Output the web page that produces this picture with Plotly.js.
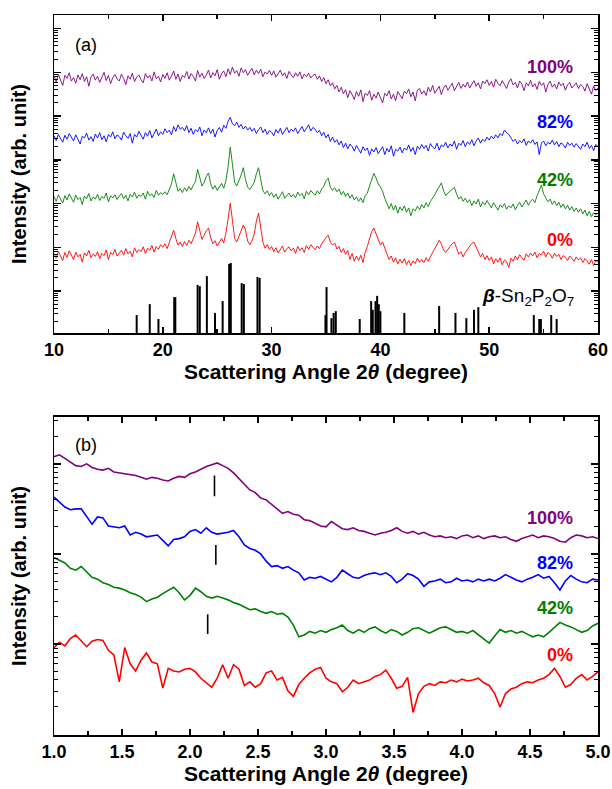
<!DOCTYPE html>
<html>
<head>
<meta charset="utf-8">
<script src="https://cdn.plot.ly/plotly-3.0.1.min.js"></script>
<style>html,body{margin:0;padding:0;background:#fff;}#plot{width:612px;height:789px;}</style>
</head>
<body>
<div id="plot"></div>
<script>
// ---------- Panel (a): XRD patterns, 2theta 10..60 deg, step 0.2 deg; values are log10(intensity, arb.) ----------
const angleA = Array.from({length: 251}, (_, i) => +(10 + 0.2 * i).toFixed(1));

const a100 = [
5.92,5.78,5.95,5.84,5.70,5.93,5.86,5.99,5.80,5.88,
5.75,5.94,5.83,5.97,5.79,5.90,5.68,5.89,5.96,5.82,
5.91,5.77,5.87,6.00,5.81,5.93,5.74,5.88,5.95,5.85,
5.80,5.96,5.86,5.72,5.92,5.84,5.98,5.79,5.89,5.94,
5.83,5.76,5.97,5.87,5.93,5.80,6.01,5.85,5.91,5.78,
5.95,5.86,5.99,5.82,5.92,6.03,5.84,5.96,5.79,5.93,
5.88,6.02,5.85,5.97,5.91,5.80,6.04,5.89,5.98,5.86,
5.94,6.05,5.87,5.99,5.92,6.06,5.84,5.97,6.03,5.90,
6.08,5.95,6.12,5.98,6.04,5.91,6.10,5.99,6.06,5.93,
6.02,6.09,5.94,6.05,5.97,6.07,5.90,6.01,5.96,6.04,
5.93,6.03,5.89,5.98,6.05,5.92,5.99,5.86,6.02,5.94,
5.88,5.99,5.91,6.01,5.85,5.96,5.90,5.98,5.87,5.93,
5.96,5.84,5.92,5.79,5.88,5.74,5.83,5.69,5.76,5.62,
5.70,5.55,5.66,5.51,5.60,5.42,5.58,5.49,5.38,5.56,
5.45,5.60,5.33,5.52,5.47,5.58,5.36,5.50,5.41,5.55,
5.44,5.30,5.52,5.46,5.58,5.39,5.50,5.35,5.56,5.48,
5.40,5.57,5.51,5.62,5.44,5.55,5.35,5.59,5.63,5.50,
5.58,5.47,5.66,5.55,5.70,5.52,5.61,5.68,5.49,5.64,
5.71,5.59,5.67,5.75,5.58,5.69,5.77,5.63,5.73,5.66,
5.78,5.64,5.72,5.81,5.68,5.76,5.62,5.80,5.74,5.83,
5.70,5.79,5.66,5.84,5.75,5.69,5.81,5.72,5.63,5.78,
5.85,5.71,5.77,5.64,5.80,5.73,5.58,5.76,5.69,5.82,
5.67,5.74,5.61,5.79,5.70,5.76,5.55,5.72,5.80,5.66,
5.73,5.62,5.78,5.69,5.75,5.59,5.71,5.77,5.64,5.70,
5.76,5.63,5.72,5.68,5.57,5.74,5.61,5.50,5.69,5.58,
5.64];

const a82 = [
4.55,4.44,4.58,4.49,4.40,4.56,4.47,4.60,4.51,4.43,
4.57,4.48,4.36,4.54,4.50,4.61,4.45,4.53,4.42,4.59,
4.50,4.62,4.46,4.55,4.41,4.58,4.52,4.64,4.48,4.57,
4.53,4.45,4.63,4.55,4.49,4.60,4.38,4.58,4.52,4.65,
4.56,4.47,4.62,4.54,4.67,4.50,4.60,4.70,4.55,4.64,
4.58,4.71,4.62,4.68,4.57,4.76,4.65,4.80,4.70,4.74,
4.66,4.78,4.62,4.72,4.58,4.69,4.64,4.75,4.55,4.68,
4.62,4.73,4.60,4.70,4.52,4.67,4.74,4.63,4.79,4.72,
4.88,4.97,4.82,4.78,4.86,4.74,4.81,4.70,4.77,4.68,
4.74,4.65,4.72,4.60,4.69,4.75,4.62,4.70,4.58,4.67,
4.63,4.55,4.69,4.61,4.72,4.58,4.66,4.74,4.62,4.70,
4.65,4.73,4.60,4.69,4.76,4.64,4.71,4.80,4.66,4.74,
4.70,4.62,4.67,4.55,4.63,4.50,4.58,4.42,4.52,4.40,
4.46,4.34,4.43,4.28,4.38,4.25,4.36,4.30,4.20,4.33,
4.24,4.15,4.30,4.21,4.27,4.10,4.25,4.18,4.28,4.14,
4.22,4.30,4.12,4.26,4.18,4.32,4.08,4.24,4.20,4.29,
4.16,4.27,4.22,4.34,4.19,4.28,4.12,4.31,4.24,4.35,
4.26,4.33,4.20,4.37,4.29,4.25,4.38,4.22,4.34,4.30,
4.40,4.27,4.36,4.31,4.43,4.24,4.38,4.33,4.44,4.30,
4.41,4.35,4.46,4.32,4.43,4.50,4.38,4.47,4.42,4.52,
4.45,4.54,4.48,4.57,4.50,4.60,4.55,4.68,4.62,4.58,
4.50,4.42,4.47,4.36,4.44,4.39,4.48,4.33,4.43,4.38,
4.46,4.35,4.41,4.12,4.38,4.43,4.32,4.40,4.36,4.45,
4.34,4.42,4.30,4.39,4.35,4.27,4.40,4.33,4.38,4.29,
4.37,4.31,4.24,4.36,4.30,4.40,4.26,4.33,4.21,4.35,
4.30];

const a42 = [
3.16,3.05,3.20,3.10,3.01,3.18,3.08,3.22,3.12,3.03,
3.19,3.09,3.14,2.98,3.17,3.11,3.23,3.06,3.15,3.10,
3.21,3.07,3.16,3.12,3.24,3.04,3.18,3.13,3.20,3.09,
3.17,3.23,3.11,3.19,3.06,3.21,3.15,3.26,3.12,3.20,
3.16,3.24,3.10,3.28,3.18,3.22,3.14,3.30,3.19,3.25,
3.21,3.27,3.20,3.31,3.45,3.68,3.44,3.28,3.34,3.25,
3.36,3.28,3.39,3.31,3.42,3.50,3.78,3.60,3.40,3.48,
3.62,3.70,3.45,3.33,3.41,3.30,3.38,3.46,3.35,3.52,
3.85,4.29,3.90,3.48,3.40,3.52,3.65,3.82,3.55,3.38,
3.32,3.40,3.48,3.68,3.82,3.55,3.30,3.22,3.29,3.18,
3.25,3.14,3.22,3.10,3.20,3.27,3.12,3.19,3.24,3.15,
3.21,3.13,3.26,3.18,3.23,3.11,3.28,3.20,3.30,3.24,
3.19,3.29,3.22,3.33,3.40,3.52,3.58,3.38,3.30,3.36,
3.27,3.33,3.20,3.28,3.16,3.24,3.12,3.20,3.08,3.15,
3.05,3.13,3.02,3.18,3.24,3.40,3.55,3.69,3.58,3.45,
3.38,3.28,3.12,2.98,2.88,3.00,2.85,2.96,2.78,2.92,
2.84,2.95,2.80,2.90,2.72,2.88,2.83,2.94,2.86,2.98,
2.90,3.02,2.93,3.05,3.12,3.20,3.30,3.38,3.47,3.30,
3.18,3.24,3.28,3.34,3.37,3.22,3.10,3.16,3.05,3.12,
3.02,3.09,2.95,3.06,2.99,3.10,2.92,3.04,2.97,3.07,
2.98,2.90,3.02,2.94,2.85,2.97,2.91,3.00,2.87,2.95,
2.90,2.99,2.86,2.95,3.03,2.92,3.00,3.08,2.96,3.05,
3.10,3.02,3.18,3.30,3.42,3.22,3.12,3.04,3.10,2.98,
3.06,2.95,3.03,2.91,2.99,2.88,2.96,2.85,2.93,2.82,
2.90,2.80,2.88,2.76,2.85,2.72,2.82,2.70,2.79,2.75,
2.78];

const a0 = [
1.86,1.75,1.90,1.79,1.70,1.88,1.77,1.92,1.81,1.72,
1.89,1.78,1.84,1.66,1.87,1.80,1.93,1.76,1.85,1.79,
1.90,1.74,1.86,1.81,1.94,1.72,1.88,1.83,1.95,1.80,
1.87,1.93,1.82,1.97,1.85,1.91,1.78,1.99,1.88,1.95,
1.90,2.01,1.86,1.98,1.93,2.04,1.89,2.02,1.95,2.06,
2.00,2.08,1.97,2.10,2.22,2.39,2.20,2.05,2.12,2.02,
2.13,2.04,2.16,2.08,2.20,2.32,2.58,2.40,2.18,2.28,
2.38,2.44,2.22,2.08,2.15,2.03,2.12,2.20,2.10,2.32,
2.65,3.01,2.62,2.20,2.12,2.25,2.38,2.51,2.40,2.14,
2.06,2.15,2.30,2.60,2.78,2.45,2.12,1.98,2.06,1.95,
2.02,1.90,1.99,1.87,1.96,2.03,1.89,1.97,2.01,1.92,
1.98,1.86,2.02,1.93,1.99,1.88,2.04,1.95,2.06,2.00,
1.94,2.03,1.97,2.08,2.16,2.22,2.28,2.12,2.05,2.10,
1.96,2.02,1.88,1.97,1.84,1.93,1.72,1.86,1.68,1.80,
1.70,1.82,1.65,1.88,2.02,2.20,2.36,2.44,2.30,2.15,
2.05,2.12,1.96,1.85,1.72,1.80,1.66,1.76,1.62,1.73,
1.64,1.74,1.60,1.70,1.58,1.69,1.63,1.75,1.66,1.72,
1.65,1.76,1.68,1.80,1.88,1.97,2.06,2.16,2.08,1.94,
1.88,1.96,2.02,2.08,2.12,1.98,1.84,1.90,1.78,1.88,
1.95,2.04,2.09,2.12,2.00,1.90,1.78,1.86,1.72,1.81,
1.70,1.78,1.62,1.74,1.66,1.76,1.60,1.71,1.67,1.54,
1.75,1.68,1.80,1.72,1.83,1.76,1.70,1.85,1.78,1.87,
1.80,1.89,1.76,1.86,1.82,1.91,1.78,1.88,1.84,1.75,
1.86,1.79,1.84,1.72,1.81,1.77,1.70,1.80,1.74,1.68,
1.78,1.71,1.76,1.65,1.74,1.69,1.61,1.72,1.58,1.70,
1.66];

// reference pattern beta-Sn2P2O7: positions (deg) and stick heights (log10 units)
const refPos = [17.6,18.8,19.6,21.05,21.15,23.2,23.4,24.05,24.8,25.5,26.1,26.25,27.25,27.45,28.7,28.9,
  34.95,35.05,35.5,35.7,35.9,38.1,39.15,39.3,39.55,39.7,39.85,40.0,42.2,45.4,46.9,47.9,48.6,49.0,
  54.1,54.6,54.75,55.7,56.2];
const refHeight = [0.45,0.70,0.36,0.86,0.86,1.14,1.11,1.34,0.50,0.77,1.62,1.64,1.18,1.16,1.32,1.30,
  0.45,1.09,0.38,0.50,0.54,0.36,0.77,0.57,0.77,0.89,0.70,0.54,0.50,0.66,0.50,0.38,0.57,0.63,
  0.45,0.36,0.36,0.45,0.36];
const refBase = 0;

// ---------- Panel (b): small-angle region, 2theta 1..5 deg, step 0.04 deg ----------
const angleB = Array.from({length: 101}, (_, i) => +(1 + 0.04 * i).toFixed(2));

const b100 = [
3.08,3.10,3.06,3.02,2.98,2.97,3.00,2.96,2.94,2.93,
2.95,2.91,2.90,2.89,2.88,2.87,2.85,2.83,2.85,2.84,
2.82,2.81,2.84,2.86,2.85,2.89,2.91,2.94,2.97,2.99,
3.01,2.98,2.95,2.90,2.84,2.78,2.71,2.68,2.62,2.60,
2.55,2.50,2.45,2.47,2.44,2.43,2.38,2.37,2.34,2.31,
2.30,2.36,2.32,2.28,2.27,2.29,2.26,2.25,2.23,2.21,
2.23,2.24,2.26,2.29,2.25,2.23,2.25,2.22,2.24,2.21,
2.19,2.20,2.18,2.19,2.17,2.20,2.21,2.18,2.20,2.17,
2.19,2.20,2.18,2.19,2.16,2.14,2.17,2.19,2.21,2.18,
2.20,2.19,2.17,2.14,2.13,2.18,2.21,2.20,2.18,2.19,
2.17];

const b82 = [
2.63,2.57,2.52,2.49,2.50,2.50,2.42,2.33,2.41,2.40,
2.31,2.30,2.29,2.31,2.21,2.24,2.22,2.19,2.20,2.21,
2.15,2.09,2.16,2.17,2.19,2.25,2.27,2.23,2.29,2.24,
2.22,2.23,2.24,2.26,2.19,2.10,2.06,2.04,2.00,1.92,
1.86,1.87,1.84,1.86,1.82,1.79,1.71,1.74,1.73,1.75,
1.72,1.69,1.74,1.82,1.78,1.74,1.73,1.76,1.78,1.79,
1.77,1.79,1.75,1.68,1.72,1.78,1.76,1.72,1.64,1.69,
1.70,1.72,1.68,1.69,1.73,1.70,1.71,1.69,1.72,1.70,
1.72,1.70,1.73,1.77,1.74,1.71,1.69,1.72,1.74,1.77,
1.73,1.75,1.68,1.60,1.70,1.76,1.72,1.69,1.68,1.72,
1.71];

const b42 = [
1.96,1.93,1.90,1.84,1.82,1.86,1.80,1.74,1.72,1.68,
1.66,1.63,1.62,1.60,1.57,1.55,1.52,1.47,1.50,1.52,
1.56,1.60,1.63,1.57,1.49,1.54,1.62,1.58,1.53,1.51,
1.53,1.51,1.49,1.46,1.44,1.41,1.38,1.39,1.36,1.34,
1.36,1.33,1.34,1.30,1.21,1.08,1.10,1.14,1.12,1.15,
1.13,1.16,1.18,1.21,1.15,1.12,1.16,1.13,1.17,1.19,
1.15,1.12,1.16,1.14,1.10,1.13,1.17,1.18,1.15,1.12,
1.15,1.18,1.19,1.16,1.13,1.14,1.12,1.15,1.10,1.05,
1.01,1.09,1.16,1.13,1.15,1.12,1.14,1.11,1.08,1.10,
1.08,1.13,1.18,1.24,1.21,1.19,1.16,1.13,1.15,1.20,
1.23];

const b0 = [
0.96,1.02,0.98,1.06,1.10,1.04,0.97,1.03,1.05,1.04,
0.93,0.88,0.58,0.96,0.78,0.70,0.82,0.90,0.80,0.78,
0.51,0.73,0.70,0.69,0.72,0.73,0.69,0.62,0.57,0.52,
0.62,0.77,0.62,0.77,0.72,0.54,0.58,0.52,0.56,0.68,
0.70,0.60,0.63,0.48,0.42,0.55,0.62,0.68,0.72,0.74,
0.62,0.58,0.56,0.47,0.52,0.60,0.56,0.58,0.60,0.64,
0.66,0.71,0.62,0.51,0.53,0.63,0.24,0.45,0.53,0.56,
0.54,0.58,0.57,0.60,0.58,0.61,0.59,0.60,0.62,0.57,
0.54,0.45,0.30,0.45,0.50,0.52,0.56,0.58,0.57,0.60,
0.62,0.66,0.73,0.64,0.52,0.55,0.62,0.66,0.60,0.64,
0.69];

// short vertical markers in panel (b): position, lower and upper ends (log10 units)
const markX = [2.18, 2.19, 2.13];
const markLow = [2.64, 1.88, 1.11];
const markHigh = [2.87, 2.10, 1.33];

const labelsA = ['100%', '82%', '42%', '0%'];
const labelPosA = [6.11, 4.86, 3.53, 2.16];
const labelsB = ['100%', '82%', '42%', '0%'];
const labelPosB = [2.40, 1.90, 1.40, 0.88];
const colors = ['#800080', '#0000ff', '#008000', '#ff0000'];

// ---------- build ----------
const pow = arr => arr.map(v => Math.pow(10, v));
const traces = [];
[a100, a82, a42, a0].forEach((s, i) => traces.push({
  x: angleA, y: pow(s), type: 'scatter', mode: 'lines', xaxis: 'x', yaxis: 'y',
  line: {color: colors[i], width: 0.9}, hoverinfo: 'skip'
}));
const sx = [], sy = [];
refPos.forEach((p, i) => { sx.push(p, p, null); sy.push(Math.pow(10, refBase), Math.pow(10, refHeight[i]), null); });
traces.push({x: sx, y: sy, type: 'scatter', mode: 'lines', xaxis: 'x', yaxis: 'y',
  line: {color: '#000', width: 2}, hoverinfo: 'skip'});

[b100, b82, b42, b0].forEach((s, i) => traces.push({
  x: angleB, y: pow(s), type: 'scatter', mode: 'lines', xaxis: 'x2', yaxis: 'y2',
  line: {color: colors[i], width: 1.6}, hoverinfo: 'skip'
}));
const mx = [], my = [];
markX.forEach((p, i) => { mx.push(p, p, null); my.push(Math.pow(10, markLow[i]), Math.pow(10, markHigh[i]), null); });
traces.push({x: mx, y: my, type: 'scatter', mode: 'lines', xaxis: 'x2', yaxis: 'y2',
  line: {color: '#000', width: 1.6}, hoverinfo: 'skip'});

const FONT = 'Arial, "Liberation Sans", Helvetica, sans-serif';
const tickFont = {family: FONT, size: 18, color: '#000', weight: 'bold'};
const titleFont = {family: FONT, size: 21, color: '#000', weight: 'bold'};
const yTitleFont = {family: FONT, size: 20, color: '#000', weight: 'bold'};

const xCommon = {
  showline: true, linewidth: 1.5, linecolor: '#000', mirror: 'ticks',
  ticks: 'inside', ticklen: 6, tickwidth: 1.5, tickcolor: '#000',
  showgrid: false, zeroline: false, tickfont: tickFont
};
const yCommon = {
  type: 'log', dtick: 1, showticklabels: false,
  showline: true, linewidth: 1.5, linecolor: '#000', mirror: 'ticks',
  ticks: 'inside', ticklen: 7, tickwidth: 1.5, tickcolor: '#000',
  minor: {ticks: 'inside', ticklen: 4, tickwidth: 1, tickcolor: '#000', dtick: 'D1', showgrid: false},
  showgrid: false, zeroline: false,
  title: {text: '<b>Intensity (arb. unit)</b>', font: yTitleFont, standoff: 20}
};

const annotations = [];
labelsA.forEach((t, i) => annotations.push({xref: 'x', yref: 'y', x: 57.9, y: labelPosA[i], xanchor: 'right', yanchor: 'middle',
  text: '<b>' + t + '</b>', showarrow: false, font: {family: FONT, size: 18, color: colors[i]}}));
labelsB.forEach((t, i) => annotations.push({xref: 'x2', yref: 'y2', x: 4.83, y: labelPosB[i], xanchor: 'right', yanchor: 'middle',
  text: '<b>' + t + '</b>', showarrow: false, font: {family: FONT, size: 18, color: colors[i]}}));
annotations.push({xref: 'x', yref: 'y', x: 58.0, y: 0.86, xanchor: 'right', yanchor: 'middle',
  text: '<b><i>β</i></b>-Sn<sub>2</sub>P<sub>2</sub>O<sub>7</sub>', showarrow: false, font: {family: FONT, size: 19, color: '#000'}});
annotations.push({xref: 'paper', yref: 'paper', x: 0.035, y: 0.958, xanchor: 'left', yanchor: 'middle',
  text: '(a)', showarrow: false, font: {family: FONT, size: 18, color: '#000'}});
annotations.push({xref: 'paper', yref: 'paper', x: 0.035, y: 0.403, xanchor: 'left', yanchor: 'middle',
  text: '(b)', showarrow: false, font: {family: FONT, size: 18, color: '#000'}});

const layout = {
  width: 612, height: 789,
  margin: {l: 54, r: 14, t: 15, b: 54},
  paper_bgcolor: '#fff', plot_bgcolor: '#fff',
  showlegend: false,
  xaxis: Object.assign({}, xCommon, {anchor: 'y', domain: [0, 1], range: [10, 60], dtick: 10,
    minor: {ticks: 'inside', ticklen: 4, tickwidth: 1.5, tickcolor: '#000', dtick: 5},
    title: {text: '<b>Scattering Angle 2<i>θ</i> (degree)</b>', font: titleFont, standoff: 5}}),
  yaxis: Object.assign({}, yCommon, {anchor: 'x', domain: [0.5583, 1], range: [0.04, 7.31]}),
  xaxis2: Object.assign({}, xCommon, {anchor: 'y2', domain: [0, 1], range: [1, 5], dtick: 0.5, tickformat: '.1f',
    minor: {ticks: 'inside', ticklen: 4, tickwidth: 1.5, tickcolor: '#000', dtick: 0.25},
    title: {text: '<b>Scattering Angle 2<i>θ</i> (degree)</b>', font: titleFont, standoff: 5}}),
  yaxis2: Object.assign({}, yCommon, {anchor: 'x2', domain: [0, 0.4417], range: [-0.01, 3.52]}),
  annotations: annotations
};

Plotly.newPlot('plot', traces, layout, {staticPlot: true, displayModeBar: false});
</script>
</body>
</html>
